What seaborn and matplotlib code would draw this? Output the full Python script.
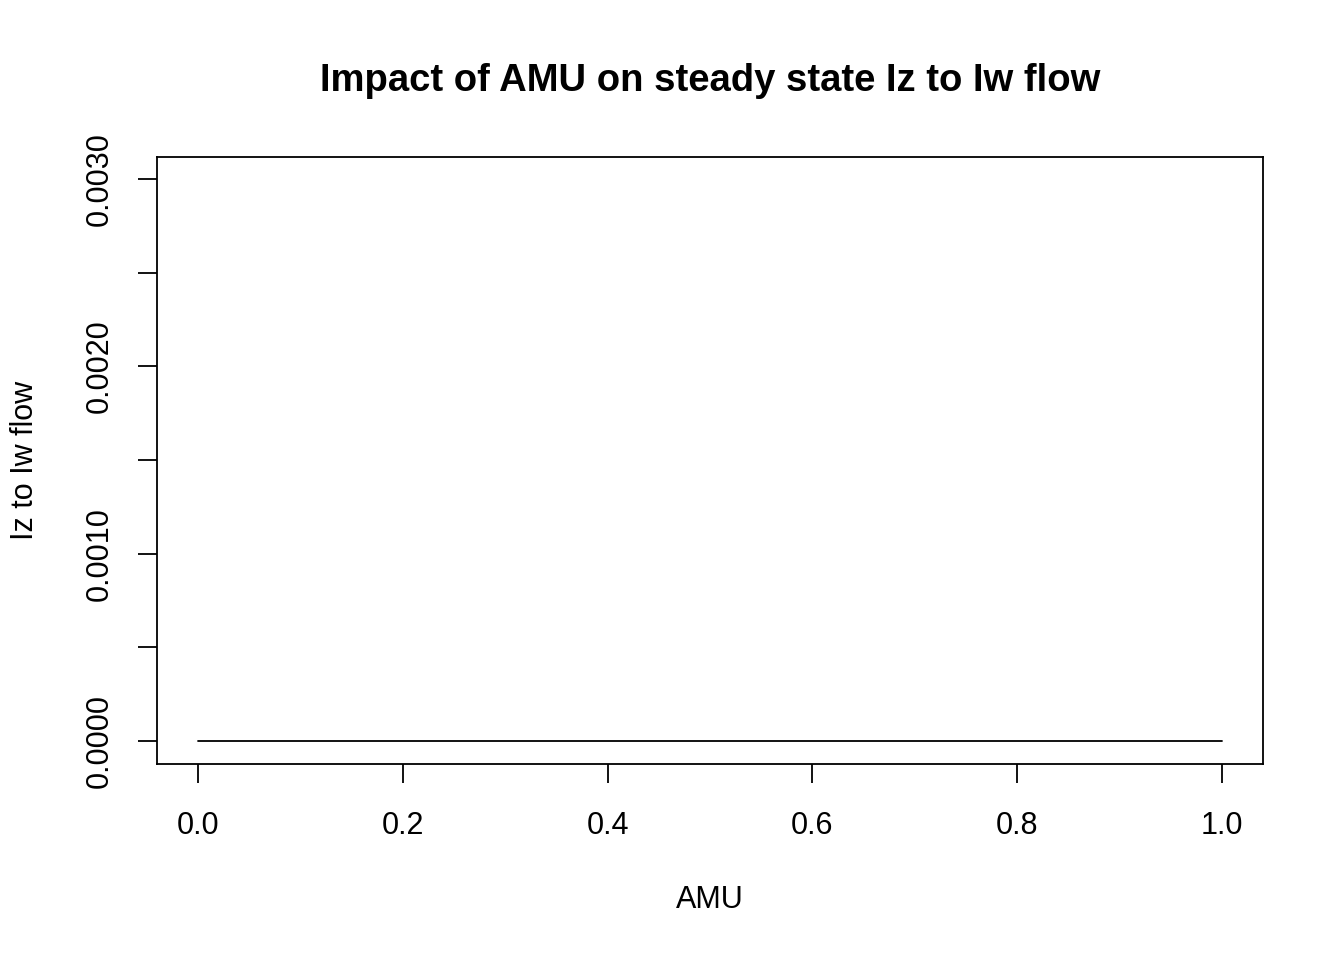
import seaborn as sns
import matplotlib
matplotlib.use("Agg")
import matplotlib.pyplot as plt

# values: flat line at zero across the whole AMU range
amu = [0.0, 0.1, 0.2, 0.3, 0.4, 0.5, 0.6, 0.7, 0.8, 0.9, 1.0]
iz_to_iw_flow = [0.0, 0.0, 0.0, 0.0, 0.0, 0.0, 0.0, 0.0, 0.0, 0.0, 0.0]

x_ticks = [0.0, 0.2, 0.4, 0.6, 0.8, 1.0]
x_labels = ["0.0", "0.2", "0.4", "0.6", "0.8", "1.0"]
y_ticks = [0.0, 0.0005, 0.001, 0.0015, 0.002, 0.0025, 0.003]
y_labels = ["0.0000", "", "0.0010", "", "0.0020", "", "0.0030"]

sns.set_style("ticks")
plt.rcParams["font.family"] = ["Liberation Sans", "DejaVu Sans"]
plt.rcParams["text.color"] = "black"
plt.rcParams["axes.labelcolor"] = "black"

fig = plt.figure(figsize=(13.44, 9.6), dpi=100)
ax = fig.add_axes([157 / 1344, 196 / 960, 1106 / 1344, 607 / 960])

sns.lineplot(x=amu, y=iz_to_iw_flow, ax=ax, color="black", linewidth=1.3)

ax.set_xlim(-0.04, 1.04)
ax.set_ylim(-0.000123, 0.003118)

ax.set_xticks(x_ticks)
ax.set_xticklabels(x_labels)
ax.set_yticks(y_ticks)
ax.set_yticklabels(y_labels, rotation=90, va="center")

ax.tick_params(axis="both", length=13.7, width=1.3, color="black",
               labelsize=22, labelcolor="black", direction="out")
ax.tick_params(axis="x", pad=20.5)
ax.tick_params(axis="y", pad=16.5)

for side in ["top", "right", "bottom", "left"]:
    ax.spines[side].set_visible(True)
    ax.spines[side].set_linewidth(1.3)
    ax.spines[side].set_color("black")

ax.set_xlabel("AMU", fontsize=22, color="black")
ax.xaxis.label.set_va("center")
ax.xaxis.set_label_coords(0.5, (60 / 960 - 196 / 960) / (607 / 960))
ax.set_ylabel("Iz to Iw flow", fontsize=22, color="black")
ax.yaxis.label.set_va("center")
ax.yaxis.set_label_coords((25 - 157) / 1106, 0.5)

fig.text(710 / 1344, 1 - 81 / 960, "Impact of AMU on steady state Iz to Iw flow",
         fontsize=27.5, fontweight="bold", ha="center", va="center", color="black")

fig.savefig("out.png", dpi=100)
